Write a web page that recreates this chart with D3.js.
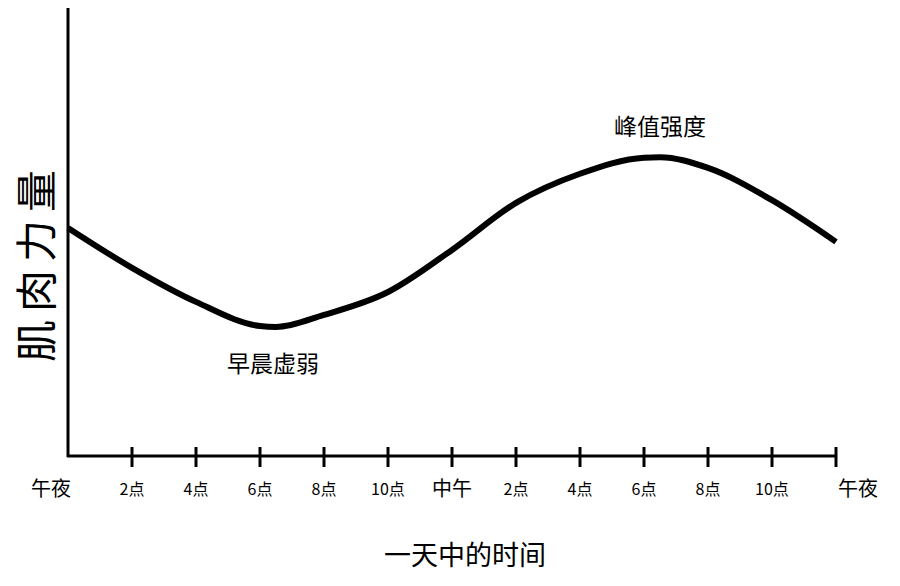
<!DOCTYPE html><html><head><meta charset="utf-8"><script src="https://cdn.jsdelivr.net/npm/d3@7"></script>
<style>body{margin:0;background:#fff}</style></head><body><svg id="c" width="900" height="586"></svg>
<script>
const hours=[0,2,4,6,6.5,8,10,12,14,16,18,18.5,20,22,24];
const strength=[50.9,42,34.4,29,28.8,31.5,36.6,46,56.5,63,66.6,66.7,64.3,57.1,47.8];
const tickHours=[0,2,4,6,8,10,12,14,16,18,20,22,24];
const tickLabels=["午夜","2点","4点","6点","8点","10点","中午","2点","4点","6点","8点","10点","午夜"];
const big=new Set([0,6,12]);
const svg=d3.select("#c"),F="'Noto Sans CJK SC',sans-serif";
const x=d3.scaleLinear().domain([0,24]).range([68,836]);
const y=d3.scaleLinear().domain([0,100]).range([456,8]);
svg.append("line").attr("x1",68).attr("x2",68).attr("y1",8).attr("y2",457).attr("stroke","#000").attr("stroke-width",3);
svg.append("line").attr("x1",67).attr("x2",837).attr("y1",456).attr("y2",456).attr("stroke","#000").attr("stroke-width",3);
tickHours.forEach((h,i)=>{
 if(i>0) svg.append("line").attr("x1",x(h)).attr("x2",x(h)).attr("y1",447).attr("y2",467).attr("stroke","#000").attr("stroke-width",3);
 const b=big.has(i);
 svg.append("text").attr("x",x(h)+(i==0?-17:i==12?22:0)).attr("y",b?496:495).attr("text-anchor","middle")
  .attr("font-family",F).attr("font-size",b?20:16).text(tickLabels[i]);
});
svg.append("path").datum(hours.map((h,i)=>[h,strength[i]])).attr("fill","none").attr("stroke","#000").attr("stroke-width",6)
 .attr("d",d3.line().x(d=>x(d[0])).y(d=>y(d[1])).curve(d3.curveMonotoneX));
svg.append("text").attr("x",273).attr("y",372).attr("text-anchor","middle").attr("font-family",F).attr("font-size",23).text("早晨虚弱");
svg.append("text").attr("x",660).attr("y",135).attr("text-anchor","middle").attr("font-family",F).attr("font-size",23).text("峰值强度");
svg.append("text").attr("x",465).attr("y",565).attr("text-anchor","middle").attr("font-family",F).attr("font-size",27).text("一天中的时间");
svg.append("text").attr("transform","translate(52,262) rotate(-90)").attr("text-anchor","middle").attr("font-family",F).attr("font-size",42).attr("letter-spacing",8).text("肌肉力量");
</script></body></html>
